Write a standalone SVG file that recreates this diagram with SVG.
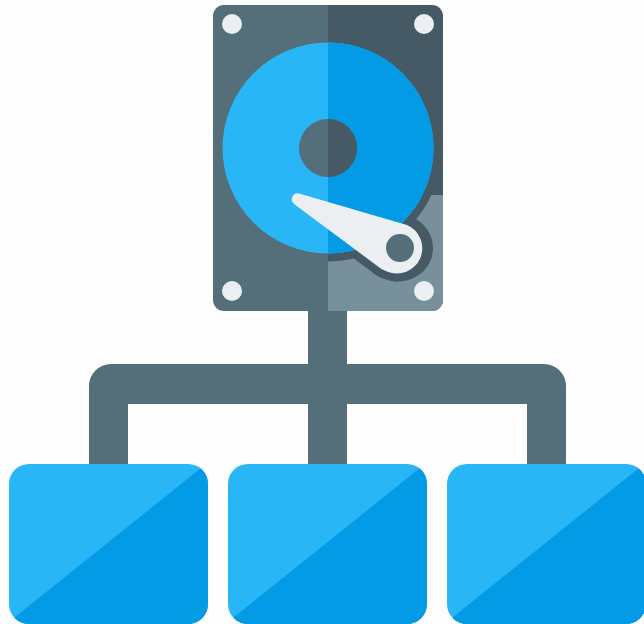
<svg xmlns="http://www.w3.org/2000/svg" width="644" height="624" viewBox="0 0 644 624">
<style>
.slate{fill:#546e7a}.slated{fill:#455a64}.slatel{fill:#78909c}.blue{fill:#29b6f6}.blued{fill:#039be5}.white{fill:#eceff1}
</style>
<defs>
<path id="arm" d="M299 193.500L407 225A24.500 24.500 0 0 1 387 271.500Q381 269.500 376 265L294 204A6 6 0 0 1 299 193.500Z"/>
<clipPath id="body"><rect x="213" y="5" width="230" height="306" rx="11"/></clipPath>
<clipPath id="right"><rect x="328" y="0" width="120" height="320"/></clipPath>
<clipPath id="n1"><rect x="9" y="464" width="199" height="160" rx="20"/></clipPath>
<clipPath id="n2"><rect x="228" y="464" width="199" height="160" rx="20"/></clipPath>
<clipPath id="n3"><rect x="447" y="464" width="199" height="160" rx="20"/></clipPath>
</defs>
<rect width="644" height="624" fill="#fdfdfd"/>
<g id="connectors" class="slate">
<path d="M308 305H347V364H544A22 22 0 0 1 566 386V470H527V404H347V470H308V404H128V470H89V386A22 22 0 0 1 111 364H308Z"/>
</g>
<g id="drive">
<g clip-path="url(#body)">
<rect class="slate" x="213" y="5" width="115" height="306"/>
<rect class="slated" x="328" y="5" width="115" height="306"/>
<rect class="slatel" x="328" y="195" width="115" height="116"/>
<g clip-path="url(#right)">
<circle class="slated" cx="328" cy="148" r="113.500"/>
<circle class="slated" cx="400" cy="248" r="33"/>
<use href="#arm" class="slated" stroke="#455a64" stroke-width="16" stroke-linejoin="round"/>
</g>
</g>
<circle class="blue" cx="328" cy="148" r="105.500"/>
<path class="blued" d="M328 42.500A105.500 105.500 0 0 1 328 253.500Z"/>
<circle class="slate" cx="328" cy="148" r="29"/>
<path class="slated" d="M328 119A29 29 0 0 1 328 177Z"/>
<use href="#arm" class="white"/>
<circle class="slate" cx="400" cy="248" r="14"/>
<circle class="white" cx="232" cy="24" r="10"/>
<circle class="white" cx="424" cy="24" r="10"/>
<circle class="white" cx="232" cy="291" r="10"/>
<circle class="white" cx="424" cy="291" r="10"/>
</g>
<g id="node-1" clip-path="url(#n1)">
<rect class="blue" x="9" y="464" width="199" height="160"/>
<path class="blued" d="M15 617L201 468L210 470V624H15Z"/>
</g>
<g id="node-2" clip-path="url(#n2)">
<rect class="blue" x="228" y="464" width="199" height="160"/>
<path class="blued" d="M234 617L420 468L429 470V624H234Z"/>
</g>
<g id="node-3" clip-path="url(#n3)">
<rect class="blue" x="447" y="464" width="199" height="160"/>
<path class="blued" d="M453 617L639 468L648 470V624H453Z"/>
</g>
</svg>
